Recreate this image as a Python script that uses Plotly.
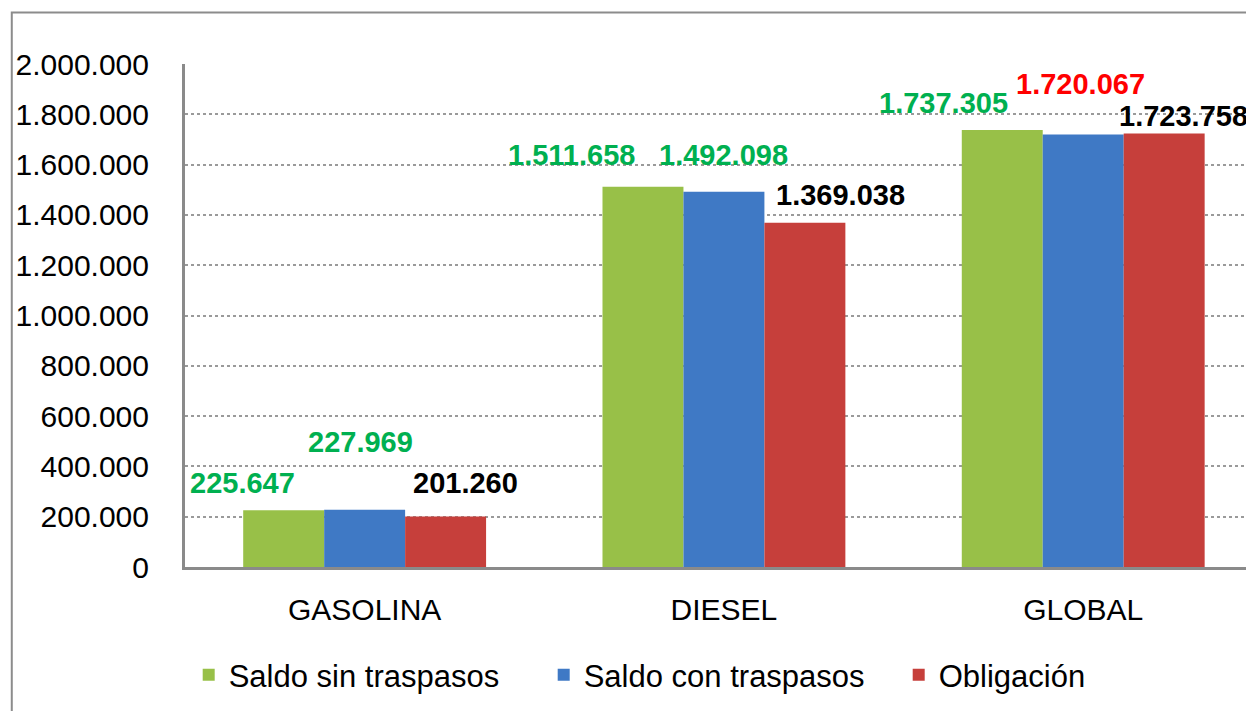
import plotly.graph_objects as go

categories = ["GASOLINA", "DIESEL", "GLOBAL"]
series_names = ["Saldo sin traspasos", "Saldo con traspasos", "Obligación"]
saldo_sin = [225647, 1511658, 1737305]
saldo_con = [227969, 1492098, 1720067]
obligacion = [201260, 1369038, 1723758]
y_ticks = [0, 200000, 400000, 600000, 800000, 1000000, 1200000, 1400000, 1600000, 1800000, 2000000]

# styles
bar_colors = ["#98C048", "#3F79C5", "#C63F3B"]
# label colours per series per category
label_colors = [
    ["#00B050", "#00B050", "#00B050"],
    ["#00B050", "#00B050", "#FF0000"],
    ["#000000", "#000000", "#000000"],
]
# label pixel offsets from category centre / value top
label_dx = [[-122, -152, -140], [-4, 0, -3], [101, 117, 100]]
label_dy = [[27, 32, 27], [68, 37, 50], [33, 28, 17]]

FONT = "Liberation Sans, Arial, sans-serif"


def fmt(v):
    return f"{v:,}".replace(",", ".")


values = [saldo_sin, saldo_con, obligacion]

fig = go.Figure()
for name, vals, col in zip(series_names, values, bar_colors):
    fig.add_trace(go.Bar(x=categories, y=vals, name=name, marker=dict(color=col, line=dict(width=0))))

for s, vals in enumerate(values):
    for c, cat in enumerate(categories):
        fig.add_annotation(
            x=cat, y=vals[c], xref="x", yref="y", text=f"<b>{fmt(vals[c])}</b>",
            showarrow=False, xshift=label_dx[s][c], yshift=label_dy[s][c],
            xanchor="center", yanchor="middle",
            font=dict(family=FONT, size=29, color=label_colors[s][c]),
        )

# outer chart border
fig.add_shape(type="rect", xref="paper", yref="paper", x0=-0.1625, x1=1.05, y0=-0.35, y1=1.1025,
              line=dict(color="#8C8C8C", width=2), fillcolor="rgba(0,0,0,0)", layer="below")

fig.update_layout(
    width=1254, height=711,
    margin=dict(l=175, r=8, t=56, b=152, pad=0),
    paper_bgcolor="white", plot_bgcolor="white",
    barmode="group", bargap=0.324, bargroupgap=0,
    font=dict(family=FONT, size=30, color="black"),
    showlegend=True,
    legend=dict(orientation="h", x=0.503, xanchor="center", y=-0.215, yanchor="middle",
                font=dict(family=FONT, size=31, color="black"), entrywidth=310,
                itemsizing="constant", bgcolor="rgba(0,0,0,0)"),
    xaxis=dict(range=[-0.5, 2.467], showgrid=False, showline=True, linecolor="#8A8A8A", linewidth=3,
               ticks="", ticklabelstandoff=14, tickfont=dict(family=FONT, size=30, color="black"),
               fixedrange=True),
    yaxis=dict(range=[0, 2000000], tickvals=y_ticks, ticktext=[fmt(v) for v in y_ticks],
               showgrid=True, gridcolor="#9A9A9A", griddash="dot", gridwidth=1.5,
               showline=True, linecolor="#8A8A8A", linewidth=3, zeroline=False,
               ticks="", ticklabelstandoff=27, tickfont=dict(family=FONT, size=30, color="black")),
)

fig.write_html("out.html")
